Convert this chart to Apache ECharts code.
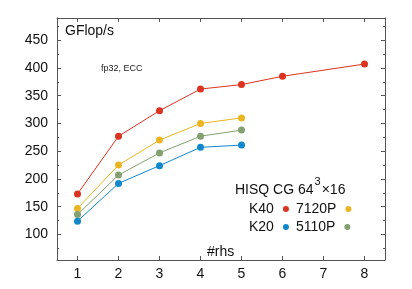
<!DOCTYPE html>
<html>
<head>
<meta charset="utf-8">
<script src="https://cdn.jsdelivr.net/npm/echarts@6/dist/echarts.min.js"></script>
<style>
html,body{margin:0;padding:0;background:#fff;}
#c{width:412px;height:289px;}
</style>
</head>
<body>
<div id="c"></div>
<script>
// Data
var rhs = [1, 2, 3, 4, 5, 6, 8];
var rhsShort = [1, 2, 3, 4, 5];
var k40 = [173, 277, 323, 362, 370, 385, 407];
var p7120 = [147, 225, 270, 300, 310];
var p5110 = [136, 207, 247, 277, 288];
var k20 = [124, 192, 224, 257, 261];
var xTicks = [1, 2, 3, 4, 5, 6, 7, 8];
var yLabels = [100, 150, 200, 250, 300, 350, 400, 450];
var yMinor = [75, 125, 175, 225, 275, 325, 375, 425, 475];

var FONT = '"Liberation Sans", Arial, sans-serif';
var AX = '#555';

function pairs(xs, ys) { return ys.map(function (v, i) { return [xs[i], v]; }); }

function yAxisDef(pos, showLine, labels, ticks, len) {
  return {
    type: 'value', position: pos, min: 54, max: 490,
    axisLine: { show: showLine, lineStyle: { color: AX, width: 1 } },
    axisTick: { show: true, inside: true, length: len, customValues: ticks, lineStyle: { color: AX } },
    axisLabel: labels ? { show: true, customValues: labels, margin: 9, fontSize: 14, color: '#111', fontFamily: FONT } : { show: false },
    splitLine: { show: false }
  };
}
function xAxisDef(pos, labels) {
  return {
    type: 'value', position: pos, min: 0.5, max: 8.5,
    axisLine: { show: true, onZero: false, lineStyle: { color: AX, width: 1 } },
    axisTick: { show: true, inside: true, length: 4, customValues: xTicks, lineStyle: { color: AX } },
    axisLabel: labels ? { show: true, customValues: xTicks, margin: 7, fontSize: 14, color: '#111', fontFamily: FONT } : { show: false },
    splitLine: { show: false }
  };
}

function ser(name, color, xs, ys) {
  return {
    name: name, type: 'line', data: pairs(xs, ys),
    symbol: 'circle', symbolSize: 7, showSymbol: true,
    itemStyle: { color: color },
    lineStyle: { color: color, width: 1 },
    emphasis: { disabled: true }, animation: false
  };
}

var RED = '#dc3320', YEL = '#eab520', GRN = '#83a070', BLU = '#1187cc';

var legendBase = {
  orient: 'horizontal', left: 249, padding: 0, itemGap: 7,
  icon: 'circle', itemWidth: 14, itemHeight: 6, align: 'right',
  textStyle: { fontSize: 14, color: '#111', fontFamily: FONT, padding: [0, 0, 0, 0] },
  selectedMode: false
};

var chart = echarts.init(document.getElementById('c'));
chart.setOption({
  animation: false,
  backgroundColor: '#fff',
  grid: { left: 57, right: 27, top: 18, bottom: 29, containLabel: false },
  xAxis: [xAxisDef('bottom', true), xAxisDef('top', false)],
  yAxis: [
    yAxisDef('left', true, yLabels, yLabels, 4),
    yAxisDef('left', false, null, yMinor, 2),
    yAxisDef('right', true, null, yLabels, 4),
    yAxisDef('right', false, null, yMinor, 2)
  ],
  legend: [
    Object.assign({}, legendBase, { top: 202, data: ['K40', '7120P'] }),
    Object.assign({}, legendBase, { top: 220, data: ['K20', '5110P'] })
  ],
  graphic: [
    { type: 'text', left: 65, top: 24.5, style: { text: 'GFlop/s', fontSize: 14, fill: '#111', fontFamily: FONT } },
    { type: 'text', left: 101, top: 64, style: { text: 'fp32, ECC', fontSize: 9, fill: '#222', fontFamily: FONT } },
    { type: 'text', left: 207, top: 245, style: { text: '#rhs', fontSize: 14, fill: '#111', fontFamily: FONT } },
    { type: 'text', left: 235, top: 176.5, style: {
        text: '{a|HISQ CG 64}{s|3}{a|×16}',
        rich: {
          a: { fontSize: 14, lineHeight: 21, fill: '#111', fontFamily: FONT, verticalAlign: 'bottom' },
          s: { fontSize: 11, lineHeight: 11, fill: '#111', fontFamily: FONT, verticalAlign: 'top', padding: [0, 1, 0, 1] }
        }
      } }
  ],
  series: [
    ser('K40', RED, rhs, k40),
    ser('7120P', YEL, rhsShort, p7120),
    ser('5110P', GRN, rhsShort, p5110),
    ser('K20', BLU, rhsShort, k20)
  ]
});
</script>
</body>
</html>
